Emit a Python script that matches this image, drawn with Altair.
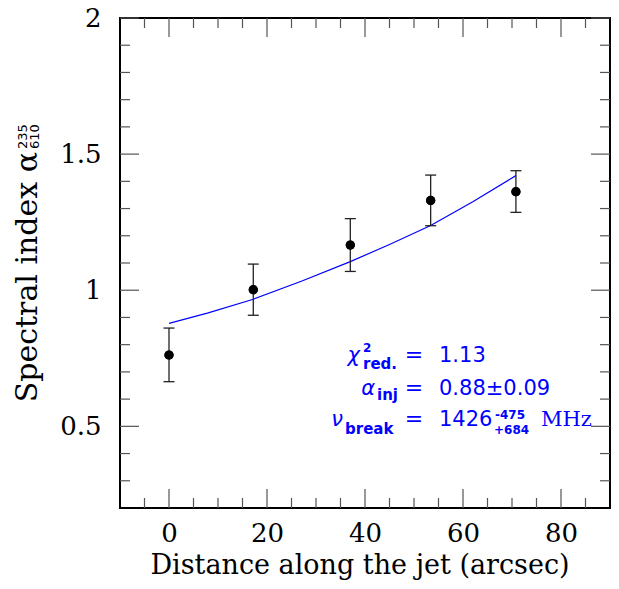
import altair as alt
import pandas as pd

# ---- data ----
distance = [0.0, 17.2, 37.0, 53.4, 70.8]
alpha = [0.762, 1.002, 1.166, 1.330, 1.362]
alpha_lo = [0.664, 0.908, 1.069, 1.237, 1.286]
alpha_hi = [0.861, 1.096, 1.263, 1.423, 1.439]

model_x = [0.0, 8.0, 17.2, 27.0, 37.0, 45.0, 53.4, 62.0, 70.8]
model_y = [0.878, 0.917, 0.967, 1.033, 1.105, 1.168, 1.238, 1.325, 1.421]

x_major = [0, 20, 40, 60, 80]
x_minor = [-5, 5, 10, 15, 25, 30, 35, 45, 50, 55, 65, 70, 75, 85]
y_major = [0.5, 1.0, 1.5, 2.0]
y_minor = [0.3, 0.4, 0.6, 0.7, 0.8, 0.9, 1.1, 1.2, 1.3, 1.4, 1.6, 1.7, 1.8, 1.9]

W = 490
H = 490
BLUE = "#0000ff"
TICK_COLOR = "#555555"

xs = alt.Scale(domain=[-10, 90], nice=False, zero=False)
ys = alt.Scale(domain=[0.2, 2.0], nice=False, zero=False)

X_AX = alt.Axis(values=x_major, title=None, domain=False, ticks=False,
                tickSize=0, grid=False, labelFont="DejaVu Serif",
                labelFontSize=26, labelColor="black", labelPadding=12,
                labelFlush=False, labelOverlap=False)
Y_AX = alt.Axis(values=y_major, format="~g", title=None, domain=False,
                ticks=False, tickSize=0, grid=False,
                labelFont="DejaVu Serif", labelFontSize=26,
                labelColor="black", labelPadding=19,
                labelFlush=False, labelOverlap=False)

def X(field):
    return alt.X(field, scale=xs, axis=X_AX)

def Y(field):
    return alt.Y(field, scale=ys, axis=Y_AX)

pts = pd.DataFrame({"d": distance, "a": alpha, "lo": alpha_lo, "hi": alpha_hi})
model = pd.DataFrame({"d": model_x, "a": model_y})

layers = []

# ---- data points first (carry the axis labels) ----
layers.append(
    alt.Chart(pts).mark_circle(size=85, color="black", opacity=1).encode(
        x=X("d:Q"), y=Y("a:Q")
    )
)

# ---- inward ticks on all four sides ----
def xticks(vals, length):
    df = pd.DataFrame({"d": vals})
    base = alt.Chart(df).mark_rule(color=TICK_COLOR, strokeWidth=1.2)
    bottom = base.encode(x=X("d:Q"), y=alt.value(H), y2=alt.value(H - length))
    top = base.encode(x=X("d:Q"), y=alt.value(0), y2=alt.value(length))
    return [bottom, top]

def yticks(vals, length):
    df = pd.DataFrame({"a": vals})
    base = alt.Chart(df).mark_rule(color=TICK_COLOR, strokeWidth=1.2)
    left = base.encode(y=Y("a:Q"), x=alt.value(0), x2=alt.value(length))
    right = base.encode(y=Y("a:Q"), x=alt.value(W), x2=alt.value(W - length))
    return [left, right]

layers += xticks(x_major, 19) + xticks(x_minor, 10)
layers += yticks(y_major, 19) + yticks(y_minor, 10)

# ---- model curve ----
layers.append(
    alt.Chart(model).mark_line(color=BLUE, strokeWidth=1.2).encode(
        x=X("d:Q"), y=Y("a:Q")
    )
)

# ---- error bars ----
layers.append(
    alt.Chart(pts).mark_rule(color="#222222", strokeWidth=1.3).encode(
        x=X("d:Q"), y=Y("lo:Q"), y2="hi:Q"
    )
)
for col in ["lo", "hi"]:
    layers.append(
        alt.Chart(pts).mark_tick(orient="horizontal", size=11, thickness=1.3,
                                 color="#222222", opacity=1).encode(
            x=X("d:Q"), y=Y(f"{col}:Q")
        )
    )

# points again on top of the error bars
layers.append(
    alt.Chart(pts).mark_circle(size=85, color="black", opacity=1).encode(
        x=X("d:Q"), y=Y("a:Q")
    )
)

# ---- text helper (positions relative to plot area) ----
def txt(s, px, py, size, font="DejaVu Sans", weight="normal", style="normal",
        align="left", angle=0, color="black"):
    return alt.Chart(pd.DataFrame({"t": [s]})).mark_text(
        font=font, fontSize=size, fontWeight=weight, fontStyle=style,
        align=align, baseline="alphabetic", angle=angle, color=color
    ).encode(x=alt.value(px), y=alt.value(py), text="t:N")

# axis titles
layers.append(txt("Distance along the jet (arcsec)", 240, 556, 27,
                  font="DejaVu Serif", align="center"))
layers.append(txt("Spectral index α", -83, 134, 30, font="DejaVu Serif",
                  align="right", angle=270))
layers.append(txt("235", -93, 131, 13, align="left", angle=270))
layers.append(txt("610", -81, 131, 13, align="left", angle=270))

# fit annotation
layers += [
    txt("χ", 240, 344, 21, style="italic", align="right", color=BLUE),
    txt("2", 243, 334, 12, weight="bold", color=BLUE),
    txt("red.", 243, 351, 15, weight="bold", color=BLUE),
    txt("=", 294, 344, 22, align="center", color=BLUE),
    txt("1.13", 319, 344, 21, color=BLUE),

    txt("α", 255, 377, 21, style="italic", align="right", color=BLUE),
    txt("inj", 257, 382, 15, weight="bold", color=BLUE),
    txt("=", 294, 377, 22, align="center", color=BLUE),
    txt("0.88±0.09", 319, 377, 21, color=BLUE),

    txt("ν", 223, 408, 21, style="italic", align="right", color=BLUE),
    txt("break", 225, 416, 15, weight="bold", color=BLUE),
    txt("=", 294, 408, 22, align="center", color=BLUE),
    txt("1426", 319, 408, 21, color=BLUE),
    txt("-475", 375, 401, 12, weight="bold", color=BLUE),
    txt("+684", 374, 416, 12, weight="bold", color=BLUE),
    txt("MHz", 421, 408, 21, font="DejaVu Serif", color=BLUE),
]

chart = alt.layer(*layers).properties(
    width=W, height=H,
    autosize=alt.AutoSizeParams(type="none"),
    padding={"left": 112, "top": 10, "right": 1, "bottom": 72},
).configure_view(stroke="black", strokeWidth=2)

chart.save("out.html", embed_options={"renderer": "svg", "actions": False})
